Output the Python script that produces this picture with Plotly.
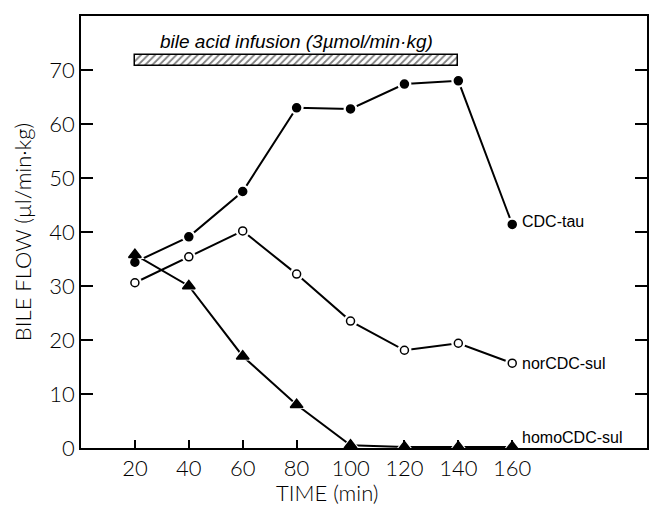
import plotly.graph_objects as go

time_min = [20, 40, 60, 80, 100, 120, 140, 160]
cdc_tau = [34.4, 39.1, 47.5, 63.0, 62.8, 67.4, 68.0, 41.4]
nor_cdc_sul = [30.6, 35.4, 40.2, 32.2, 23.5, 18.1, 19.4, 15.7]
homo_cdc_sul = [35.8, 30.0, 17.0, 8.0, 0.5, 0.2, 0.2, 0.2]

x_ticks = [20, 40, 60, 80, 100, 120, 140, 160]
y_ticks = [0, 10, 20, 30, 40, 50, 60, 70]

infusion_start = 20
infusion_end = 140
infusion_level = 71.75

series = [
    ("CDC-tau", cdc_tau, "circle", 8, "black"),
    ("norCDC-sul", nor_cdc_sul, "circle", 8, "white"),
    ("homoCDC-sul", homo_cdc_sul, "triangle-up", 11, "black"),
]
label_pos = {"CDC-tau": 41.9, "norCDC-sul": 15.7, "homoCDC-sul": 1.9}

FONT = "Liberation Sans"
TICKFONT = dict(family="Lato", size=22, color="black", weight=300)
fig = go.Figure()

# infusion bar (hatched)
fig.add_trace(go.Bar(
    x=[infusion_end - infusion_start], base=[infusion_start], y=[infusion_level],
    orientation="h", width=[2.1],
    marker=dict(color="white", line=dict(color="black", width=1.5),
                pattern=dict(shape="/", fgcolor="black", bgcolor="white", size=5, solidity=0.35)),
    hoverinfo="skip", showlegend=False,
))

for name, vals, sym, size, fill in series:
    fig.add_trace(go.Scatter(x=time_min, y=vals, mode="lines",
                             line=dict(color="black", width=2), showlegend=False))
for name, vals, sym, size, fill in series:
    fig.add_trace(go.Scatter(x=time_min, y=vals, mode="markers",
                             marker=dict(symbol=sym, size=size + 6, color="white",
                                         line=dict(width=0)), showlegend=False))
for name, vals, sym, size, fill in series:
    fig.add_trace(go.Scatter(x=time_min, y=vals, mode="markers",
                             marker=dict(symbol=sym, size=size, color=fill,
                                         line=dict(color="black", width=1.5)),
                             showlegend=False))

annotations = []
for name, vals, sym, size, fill in series:
    annotations.append(dict(x=163, y=label_pos[name], xref="x", yref="y", text=name,
                            showarrow=False, xanchor="left", yanchor="middle",
                            font=dict(family=FONT, size=16, color="black")))
annotations.append(dict(x=80, y=75.3, xref="x", yref="y",
                        text="<i>bile acid infusion (3µmol/min·kg)</i>",
                        showarrow=False, xanchor="center", yanchor="middle",
                        font=dict(family=FONT, size=19, color="black")))
annotations.append(dict(x=0.435, y=-0.102, xref="paper", yref="paper", text="TIME (min)",
                        showarrow=False, xanchor="center", yanchor="middle",
                        font=dict(family="Lato", size=22, color="black", weight=300)))
annotations.append(dict(x=-0.104, y=0.50, xref="paper", yref="paper",
                        text="BILE FLOW (µl/min·kg)", textangle=-90,
                        showarrow=False, xanchor="center", yanchor="middle",
                        font=dict(family="Lato", size=22, color="black", weight=300)))

fig.update_layout(
    width=650, height=506,
    margin=dict(l=81, r=1, t=16, b=58),
    paper_bgcolor="white", plot_bgcolor="white",
    showlegend=False,
    annotations=annotations,
    xaxis=dict(range=[0, 210], tickvals=x_ticks, ticktext=[str(v) for v in x_ticks],
               ticks="inside", ticklen=8, tickwidth=1.5, tickcolor="black",
               showline=True, linecolor="black", linewidth=1.5, mirror=True,
               showgrid=False, zeroline=False, tickfont=TICKFONT),
    yaxis=dict(range=[0, 80], tickvals=y_ticks, ticktext=[str(v) for v in y_ticks],
               ticks="inside", ticklen=12, tickwidth=1.5, tickcolor="black",
               showline=True, linecolor="black", linewidth=1.5, mirror="ticks",
               showgrid=False, zeroline=False, tickfont=TICKFONT),
    bargap=0,
)

fig.write_html("out.html", config={"displayModeBar": False},
               post_script="document.body.style.margin='0';document.body.style.overflow='hidden';")
